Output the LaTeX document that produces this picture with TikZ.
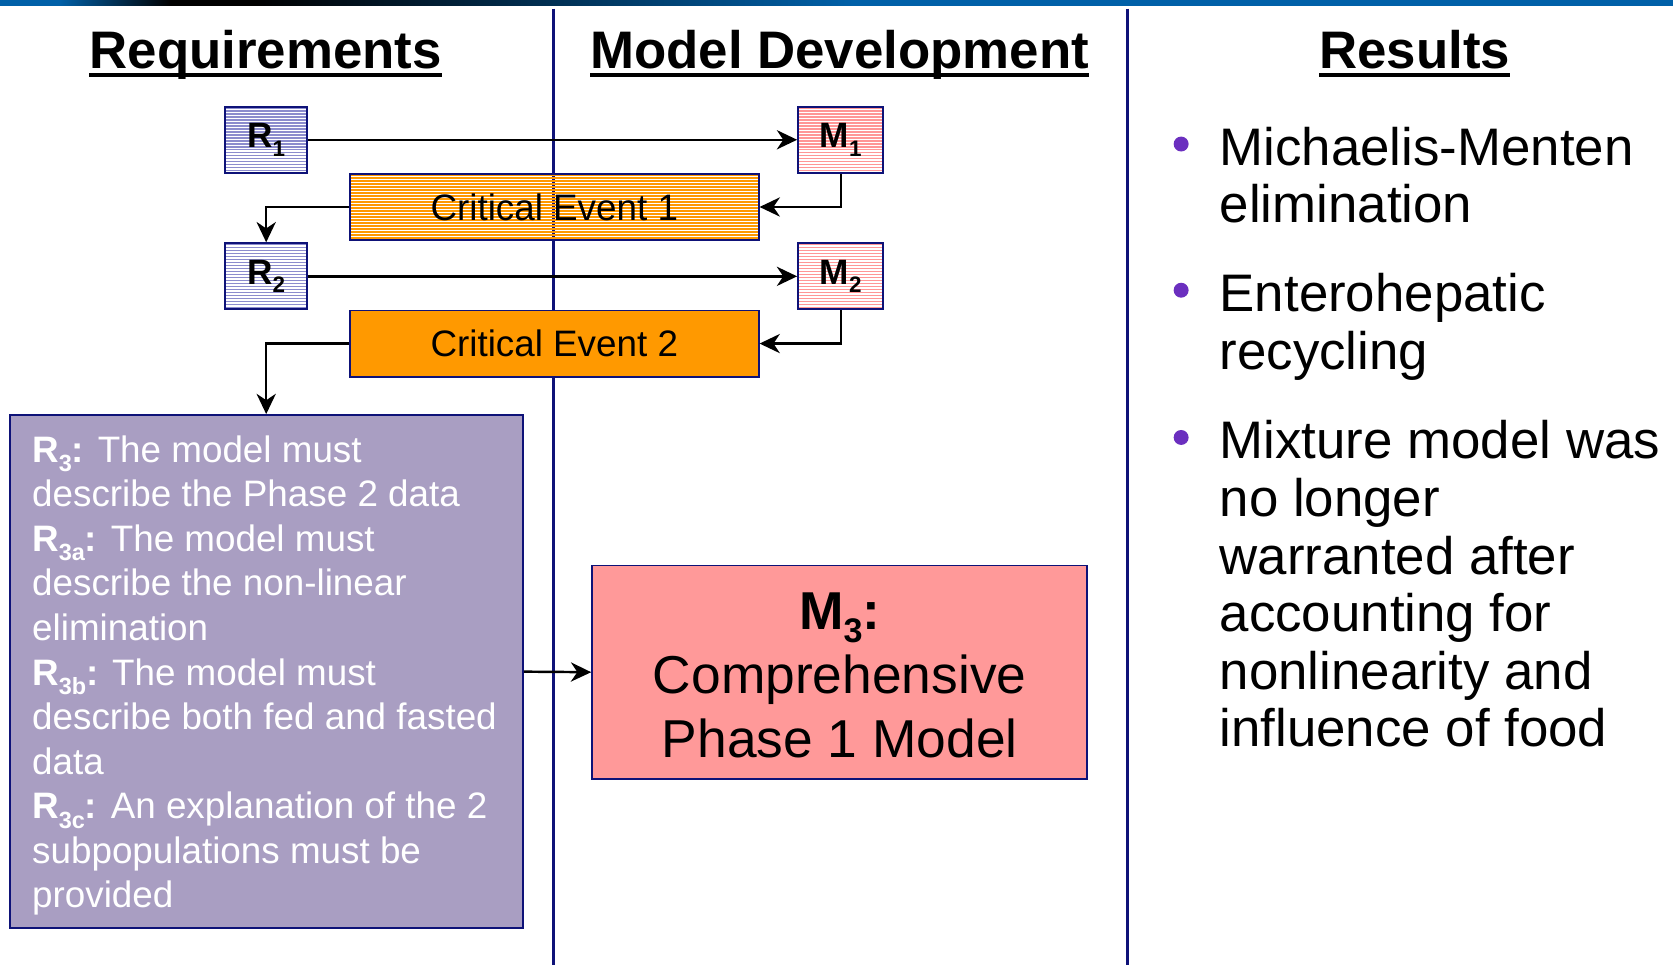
\documentclass[tikz,border=0pt]{standalone}
\usepackage{fontspec}
\setmainfont{Liberation Sans}
\usetikzlibrary{arrows.meta}

\definecolor{navy}{RGB}{14,18,120}
\definecolor{barblue}{RGB}{0,96,168}
\definecolor{rstripe}{RGB}{140,140,205}
\definecolor{mstripe}{RGB}{255,150,150}
\definecolor{cestripe}{RGB}{255,153,0}
\definecolor{cefill}{RGB}{255,153,0}
\definecolor{rthree}{RGB}{169,158,194}
\definecolor{mthree}{RGB}{255,153,153}
\definecolor{dotpurple}{RGB}{107,47,191}

% banner colour run: blue, into black, back to blue
% (the filled path spans 25bp..75bp of the shading)
\pgfdeclarehorizontalshading{banner}{100bp}{
  color(0bp)=(barblue); color(25bp)=(barblue); color(26.75bp)=(barblue);
  color(30.1bp)=(black); color(32.65bp)=(black); color(50.5bp)=(barblue);
  color(75bp)=(barblue); color(100bp)=(barblue)}

\newcommand{\fs}[2]{\fontsize{#1}{#2}\selectfont}
% bold symbol with a lowered bold index
\newcommand{\idx}[3]{\textbf{#1}\raisebox{-0.25em}{\fontsize{#3}{#3}\selectfont\bfseries #2}}

\tikzset{
  stripes/.style={path picture={
    \foreach \k in {0,...,24}{
      \draw[#1,line width=1.3pt]
        ([yshift=-\k*2.8pt-1.2pt]path picture bounding box.north west) --
        ([yshift=-\k*2.8pt-1.2pt]path picture bounding box.north east);
    }}},
  smallbox/.style={draw=navy, line width=1.8pt, minimum width=77pt,
    minimum height=62pt, inner sep=0pt, font=\fs{33}{40}},
  rbox/.style={smallbox, stripes=rstripe},
  mbox/.style={smallbox, minimum width=80pt, stripes=mstripe},
  cebox/.style={draw=navy, line width=1.8pt, minimum width=383pt,
    minimum height=62pt, inner sep=0pt, font=\fs{34.5}{40}},
  head/.style={font=\fs{49.5}{58}\bfseries, inner sep=0pt, anchor=base},
  uline/.style={line width=3.5pt},
  % multi-line texts are placed by the baseline of their last line
  bullettext/.style={font=\fs{49.5}{54}, align=left, inner sep=0pt, anchor=base west},
  dot/.style={circle, fill=dotpurple, minimum size=14pt, inner sep=0pt},
  vline/.style={navy, line width=2.6pt},
  arr/.style={line width=2.3pt, -{Stealth[length=19pt,width=18pt,inset=6pt]}},
}

\begin{document}
\begin{tikzpicture}[x=1pt,y=-1pt]
\useasboundingbox (0,0) rectangle (1568,904);

% top banner strip
\shade[shading=banner] (0,0) rectangle (1568,4.7);

% column separators
\draw[vline] (519,8) -- (519,904);
\draw[vline] (1057,8) -- (1057,904);

% column headings
\node[head] (hreq) at (249,64) {Requirements};
\draw[uline] ([yshift=-6.5pt]hreq.base west) -- ([yshift=-6.5pt]hreq.base east);
\node[head] (hmod) at (787,64) {Model Development};
\draw[uline] ([yshift=-6.5pt]hmod.base west) -- ([yshift=-6.5pt]hmod.base east);
\node[head] (hres) at (1326,64) {Results};
\draw[uline] ([yshift=-6.5pt]hres.base west) -- ([yshift=-6.5pt]hres.base east);

% requirement / model boxes
\node[rbox] (R1) at (249.5,131) {\idx{R}{1}{21}};
\node[mbox] (M1) at (788,131) {\idx{M}{1}{21}};
\node[cebox, stripes=cestripe] (CE1) at (519.5,194) {Critical Event 1};
\node[rbox] (R2) at (249.5,259) {\idx{R}{2}{21}};
\node[mbox] (M2) at (788,259) {\idx{M}{2}{21}};
\node[cebox, fill=cefill] (CE2) at (519.5,322) {Critical Event 2};

\node[draw=navy, line width=1.8pt, fill=rthree, minimum width=481pt,
      minimum height=481pt] (R3) at (249.5,629.5) {};
\node[text=white, font=\fs{34.5}{41.8}, align=left, inner sep=0pt,
      anchor=base west] (R3t) at (30,851)
  {\idx{R}{3}{22}\textbf{:} The model must\\
   describe the Phase 2 data\\
   \idx{R}{3a}{22}\textbf{:} The model must\\
   describe the non-linear\\
   elimination\\
   \idx{R}{3b}{22}\textbf{:} The model must\\
   describe both fed and fasted\\
   data\\
   \idx{R}{3c}{22}\textbf{:} An explanation of the 2\\
   subpopulations must be\\
   provided};

\node[draw=navy, line width=1.8pt, fill=mthree, minimum width=464pt,
      minimum height=200pt] (M3) at (787,630) {};
\node[font=\fs{50}{60}, align=center, inner sep=0pt, anchor=base] (M3t) at (787,710)
  {\idx{M}{3}{32}\textbf{:}\\Comprehensive\\Phase 1 Model};

% connectors
\draw[arr] (R1) -- (M1);
\draw[arr] (M1.south) |- (CE1.east);
\draw[arr] (CE1.west) -| (R2.north);
\draw[arr] (R2) -- (M2);
\draw[arr] (M2.south) |- (CE2.east);
\draw[arr] (CE2.west) -| (R3.north);
\draw[arr] (R3.east) -- (M3.west);

% results list
\node[dot] (d1) at (1107,135) {};
\node[bullettext] (b1) at (1143,209) {Michaelis-Menten\\elimination};
\node[dot] (d2) at (1107,272) {};
\node[bullettext] (b2) at (1143,346) {Enterohepatic\\recycling};
\node[dot] (d3) at (1107,410) {};
\node[bullettext] (b3) at (1143,700) {Mixture model was\\no longer\\warranted after\\accounting for\\nonlinearity and\\influence of food};
\end{tikzpicture}
\end{document}
